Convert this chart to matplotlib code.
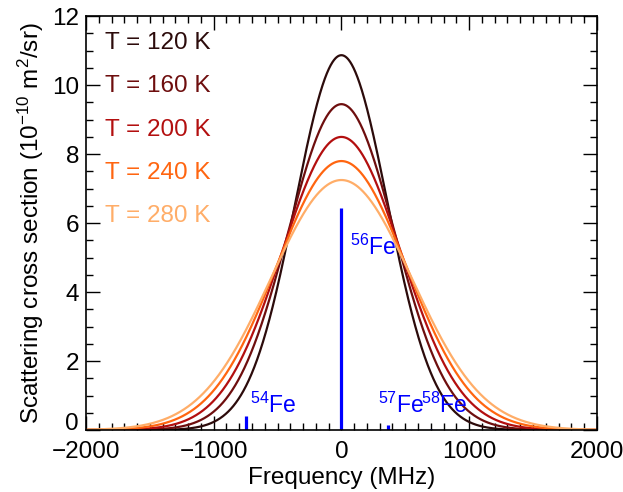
import numpy as np
import matplotlib
matplotlib.use("Agg")
import matplotlib.pyplot as plt
import matplotlib.transforms as mtransforms
from matplotlib.ticker import MultipleLocator

# ---- data ----
temps = [120, 160, 200, 240, 280]                      # K
peak_heights = [10.87, 9.45, 8.50, 7.80, 7.25]         # 1e-10 m^2/sr
fwhm_mhz = [850, 982, 1097, 1203, 1300]                # Gaussian line width (MHz)
colors = ["#2c0b0b", "#6e0e0e", "#b30f0f", "#ff6510", "#ffad68"]

isotopes = ["54", "56", "57", "58"]
iso_freq = [-748, 0, 364, 700]                          # MHz
iso_height = [0.41, 6.43, 0.15, 0.02]
iso_label_x = [-716, 67, 286, 625]
iso_label_y = [0.72, 5.30, 0.72, 0.72]

xticks = [-2000, -1000, 0, 1000, 2000]
yticks = [0, 2, 4, 6, 8, 10, 12]

plt.rcParams["font.family"] = ["Liberation Sans", "DejaVu Sans"]
plt.rcParams["mathtext.fontset"] = "custom"
plt.rcParams["mathtext.rm"] = "Liberation Sans"
plt.rcParams["mathtext.it"] = "Liberation Sans"
plt.rcParams["mathtext.default"] = "regular"

FS = 17.5

fig = plt.figure(figsize=(6.23, 4.92), dpi=100)
ax = fig.add_axes([0.138, 0.126, 0.820, 0.841])

x = np.linspace(-2000, 2000, 2001)
for T, A, w, c in zip(temps, peak_heights, fwhm_mhz, colors):
    s = w / 2.3548
    ax.plot(x, A * np.exp(-x**2 / (2 * s**2)), color=c, lw=1.6)

ax.vlines(iso_freq, 0, iso_height, colors="#0000ff", lw=2.3)
for lab, lx, ly in zip(isotopes, iso_label_x, iso_label_y):
    ax.text(lx, ly, r"$^{%s}$Fe" % lab, color="#0000ff", fontsize=16.5,
            va="center", ha="left")

for i, (T, c) in enumerate(zip(temps, colors)):
    ax.text(0.037, 0.935 - i * 0.1046, f"T = {T} K", color=c, fontsize=FS,
            transform=ax.transAxes, va="center", ha="left")

ax.set_xlim(-2000, 2000)
ax.set_ylim(0, 12)
ax.set_xticks(xticks)
ax.set_yticks(yticks)
ax.xaxis.set_minor_locator(MultipleLocator(100))
ax.yaxis.set_minor_locator(MultipleLocator(0.5))
ax.tick_params(which="both", direction="in", top=True, right=True,
               labelsize=FS, width=1.0)
ax.tick_params(axis="x", which="major", pad=8)
ax.tick_params(axis="y", which="major", pad=5)
ax.tick_params(which="major", length=10)
ax.tick_params(which="minor", length=5)
for sp in ax.spines.values():
    sp.set_linewidth(1.2)

# shift the "0" y tick label up slightly as in the reference
fig.canvas.draw()
ylabels = ax.get_yticklabels()
off = mtransforms.ScaledTranslation(0, 9 / 100, fig.dpi_scale_trans)
ylabels[0].set_transform(ylabels[0].get_transform() + off)

ax.set_xlabel("Frequency (MHz)", fontsize=FS, labelpad=3)
ax.set_ylabel(r"Scattering cross section (10$^{-10}$ m$^{2}$/sr)", fontsize=FS,
              labelpad=4)

fig.savefig("out.png", dpi=100)
